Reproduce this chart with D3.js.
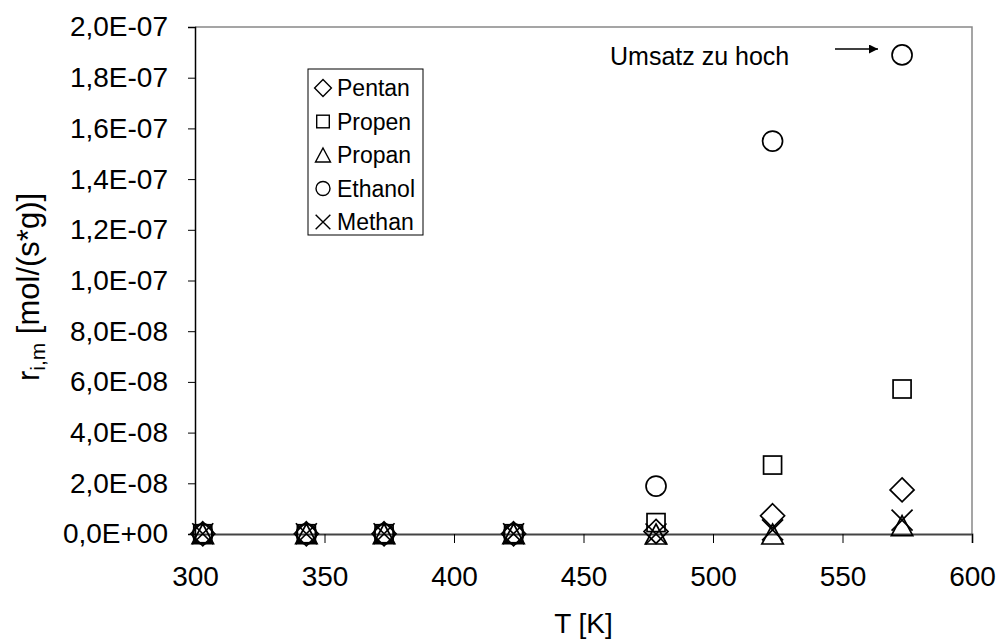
<!DOCTYPE html>
<html>
<head>
<meta charset="utf-8">
<script src="https://cdn.jsdelivr.net/npm/d3@7"></script>
<style>
body { margin: 0; background: #fff; }
text { font-family: "Liberation Sans", Arial, sans-serif; }
</style>
</head>
<body>
<div id="chart"></div>
<script>
// temperatures (K)
var temps = [303, 343, 373, 423, 478, 523, 573];
// rates mol/(s*g)
var pentan  = [1e-10, 1e-10, 1e-10, 1e-10, 1.0e-9, 7.2e-9, 1.74e-8];
var propen  = [1e-10, 1e-10, 1e-10, 1e-10, 4.5e-9, 2.72e-8, 5.72e-8];
var propan  = [1e-10, 1e-10, 1e-10, 1e-10, 0, 0, 3.3e-9];
var ethanol = [1e-10, 1e-10, 1e-10, 1e-10, 1.89e-8, 1.55e-7, 1.89e-7];
var methan  = [1e-10, 1e-10, 1e-10, 1e-10, 0, 1.6e-9, 5.5e-9];
var seriesNames = ["Pentan", "Propen", "Propan", "Ethanol", "Methan"];
var xTicks = [300, 350, 400, 450, 500, 550, 600];
var yTicks = [0, 2e-8, 4e-8, 6e-8, 8e-8, 1e-7, 1.2e-7, 1.4e-7, 1.6e-7, 1.8e-7, 2e-7];

var width = 999, height = 641;
var margin = { top: 27, right: 27, bottom: 107, left: 195 };

var svg = d3.select("#chart").append("svg")
    .attr("width", width)
    .attr("height", height);

var x = d3.scaleLinear().domain([300, 600]).range([margin.left, width - margin.right]);
var y = d3.scaleLinear().domain([0, 2e-7]).range([height - margin.bottom, margin.top]);

function fmtE(v) {
    if (v === 0) return "0,0E+00";
    var e = Math.floor(Math.log10(Math.abs(v)) + 1e-9);
    var m = v / Math.pow(10, e);
    var es = (e < 0 ? "-" : "+") + (Math.abs(e) < 10 ? "0" : "") + Math.abs(e);
    return m.toFixed(1).replace(".", ",") + "E" + es;
}

// plot frame (top/right gray)
svg.append("path")
    .attr("d", "M" + x(300) + "," + y(2e-7) + "H" + x(600) + "V" + y(0))
    .attr("fill", "none")
    .attr("stroke", "#888")
    .attr("stroke-width", 1.5);

var xAxis = svg.append("g")
    .attr("transform", "translate(0," + y(0) + ")")
    .call(d3.axisBottom(x).tickValues(xTicks).tickSize(9).tickPadding(23).tickFormat(d3.format("d")));
xAxis.select(".domain").attr("stroke", "#444").attr("stroke-width", 1.8);
xAxis.selectAll(".tick line").attr("stroke", "#000");
xAxis.selectAll("text").attr("font-size", 28).attr("fill", "#000")
    .style("font-family", "Liberation Sans, Arial, sans-serif");

var yAxis = svg.append("g")
    .attr("transform", "translate(" + x(300) + ",0)")
    .call(d3.axisLeft(y).tickValues(yTicks).tickSize(7).tickPadding(20).tickFormat(fmtE));
yAxis.select(".domain").attr("stroke", "#000").attr("stroke-width", 1.5);
yAxis.selectAll(".tick line").attr("stroke", "#000");
yAxis.selectAll("text").attr("font-size", 28).attr("fill", "#000")
    .style("font-family", "Liberation Sans, Arial, sans-serif");

svg.append("text")
    .attr("x", (x(300) + x(600)) / 2)
    .attr("y", 633)
    .attr("text-anchor", "middle")
    .attr("font-size", 28)
    .text("T [K]");

var yl = svg.append("text")
    .attr("transform", "translate(39,287) rotate(-90)")
    .attr("text-anchor", "middle")
    .attr("font-size", 31);
yl.append("tspan").text("r");
yl.append("tspan").attr("font-size", 21).attr("dy", 6).text("i,m");
yl.append("tspan").attr("dy", -6).text(" [mol/(s*g)]");

// marker shapes, s = nominal size in px
function marker(g, kind, s) {
    var h = s / 2;
    if (kind === "Pentan") {
        var d = h * 1.2;
        g.append("path").attr("d", "M0," + (-d) + "L" + d + ",0L0," + d + "L" + (-d) + ",0Z");
    } else if (kind === "Propen") {
        g.append("rect").attr("x", -h * 0.9).attr("y", -h * 0.9).attr("width", s * 0.9).attr("height", s * 0.9);
    } else if (kind === "Propan") {
        g.append("path").attr("d", "M0," + (-h) + "L" + (h * 1.07) + "," + h + "L" + (-h * 1.07) + "," + h + "Z");
    } else if (kind === "Ethanol") {
        g.append("circle").attr("r", h);
    } else {
        var c = h * 1.05;
        g.append("path").attr("d", "M" + (-c) + "," + (-c) + "L" + c + "," + c + "M" + c + "," + (-c) + "L" + (-c) + "," + c);
    }
    g.selectAll("*").attr("fill", "none").attr("stroke", "#000").attr("stroke-width", 1.7);
}

var allSeries = [pentan, propen, propan, ethanol, methan];
allSeries.forEach(function (vals, si) {
    var grp = svg.append("g");
    vals.forEach(function (v, i) {
        var g = grp.append("g").attr("transform", "translate(" + x(temps[i]) + "," + y(v) + ")");
        marker(g, seriesNames[si], 20);
    });
});

// legend
var lg = svg.append("g").attr("transform", "translate(308,69)");
lg.append("rect").attr("width", 115).attr("height", 166)
    .attr("fill", "#fff").attr("stroke", "#000").attr("stroke-width", 1);
seriesNames.forEach(function (n, i) {
    var gy = 19 + i * 33.5;
    var g = lg.append("g").attr("transform", "translate(15," + gy + ")");
    marker(g, n, 14);
    g.selectAll("*").attr("stroke-width", 1.4);
    lg.append("text").attr("x", 29).attr("y", gy + 8).attr("font-size", 23).text(n);
});

// annotation
svg.append("text").attr("x", 610).attr("y", 65).attr("font-size", 25).text("Umsatz zu hoch");
svg.append("defs").append("marker")
    .attr("id", "arr").attr("viewBox", "0 0 10 10").attr("refX", 10).attr("refY", 5)
    .attr("markerWidth", 11).attr("markerHeight", 9).attr("markerUnits", "userSpaceOnUse")
    .attr("orient", "auto")
    .append("path").attr("d", "M0,0L10,5L0,10Z").attr("fill", "#000");
svg.append("line").attr("x1", 835).attr("y1", 49).attr("x2", 878).attr("y2", 49)
    .attr("stroke", "#000").attr("stroke-width", 1.4).attr("marker-end", "url(#arr)");
</script>
</body>
</html>
